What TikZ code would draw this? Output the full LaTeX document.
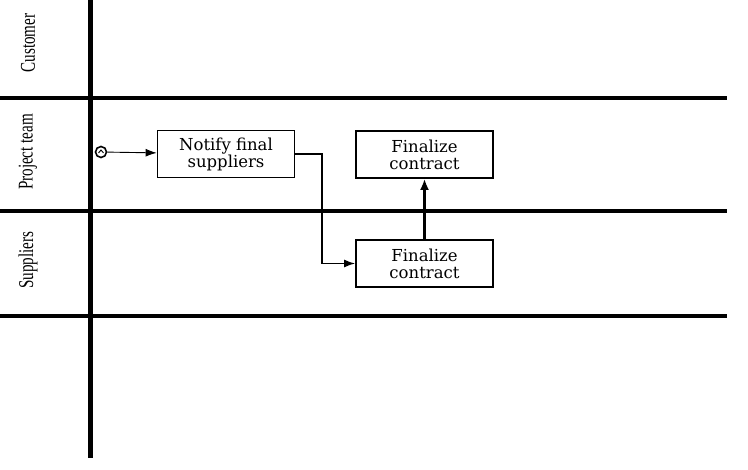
\documentclass[tikz,border=0pt]{standalone}
\usepackage{fontspec}
\setmainfont{DejaVu Serif}
\newfontfamily\lanefont{Liberation Serif}
\usetikzlibrary{arrows.meta}
\begin{document}
\begin{tikzpicture}[x=1pt,y=-1pt,
  lane/.style={line width=3.5pt},
  pool/.style={line width=5pt},
  task/.style={draw,line width=1.7pt,minimum width=137pt,minimum height=47pt,align=center,font=\fontsize{16.5}{17}\selectfont,inner sep=2pt},
  lanelabel/.style={rotate=90,font=\lanefont\fontsize{21}{22}\selectfont},
  flow/.style={line width=1.5pt,-{Latex[length=11pt,width=8pt]}},
  thinflow/.style={line width=0.9pt,-{Latex[length=11pt,width=8pt]}},
  thickflow/.style={line width=2.6pt,-{Latex[length=11pt,width=9pt]}}]
\useasboundingbox (0,0) rectangle (748,470);
% lanes
\coordinate (l1a) at (0,98);  \coordinate (l1b) at (727,98);
\coordinate (l2a) at (0,211); \coordinate (l2b) at (727,211);
\coordinate (l3a) at (0,316); \coordinate (l3b) at (727,316);
\coordinate (pa) at (90,0);   \coordinate (pb) at (90,458);
\draw[lane] (l1a) -- (l1b);
\draw[lane] (l2a) -- (l2b);
\draw[lane] (l3a) -- (l3b);
\draw[pool] (pa) -- (pb);
% lane labels
\node[lanelabel] (lc) at (28,43) {\scalebox{0.72}[1]{Customer}};
\node[lanelabel] (lp) at (28,152) {\scalebox{0.72}[1]{Project team}};
\node[lanelabel] (ls) at (28,260) {\scalebox{0.72}[1]{Suppliers}};
% start event
\node[circle,draw,line width=1.6pt,minimum size=11pt,inner sep=0pt] (start) at (101,152) {};
\draw[line width=0.9pt] (start.center) ++(-2.5,1) -- ++(2.5,-3) -- ++(2.5,3);
% tasks
\node[task] (notify) at (226,154) {Notify final\\suppliers};
\node[task] (fin1) at (424.5,154.5) {Finalize\\contract};
\node[task] (fin2) at (424.5,263.5) {Finalize\\contract};
% flows
\coordinate (bend1) at (322,154);
\coordinate (bend2) at (322,263.5);
\draw[thinflow] (start) -- (notify);
\draw[flow] (notify.east) -- (bend1) -- (bend2) -- (fin2.west);
\draw[thickflow] (fin2.north) -- (fin1.south);
\end{tikzpicture}
\end{document}
